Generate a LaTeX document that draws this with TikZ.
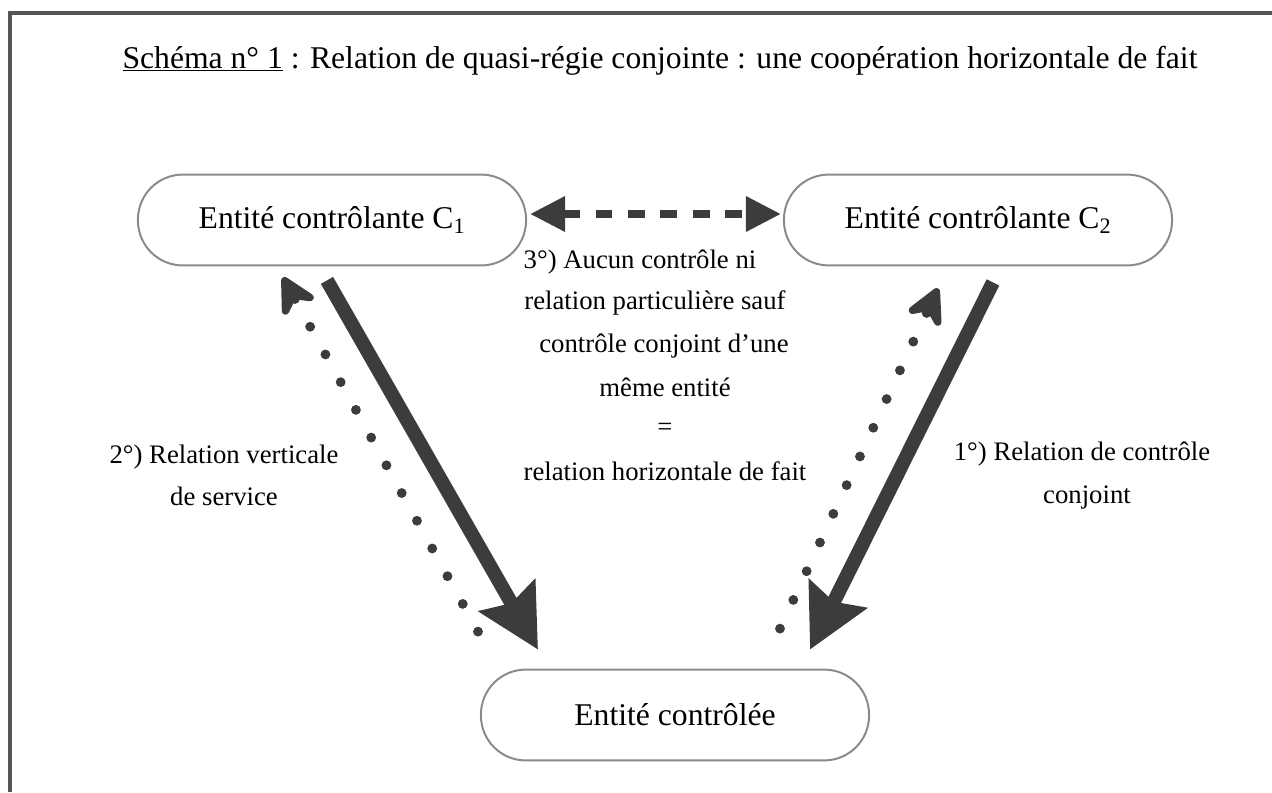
\documentclass[tikz,border=0pt]{standalone}
\usepackage{fontspec}
\setmainfont{Liberation Serif}
\usetikzlibrary{arrows.meta}
\definecolor{arrowgray}{HTML}{3C3C3C}
\definecolor{boxgray}{HTML}{8A8A8A}
\definecolor{framegray}{HTML}{555555}
\begin{document}
\begin{tikzpicture}[x=0.025cm,y=-0.025cm,
  entity/.style={draw=boxgray,line width=1.4pt,rounded corners=1.12cm,
    minimum width=9.7cm,minimum height=2.27cm,inner sep=0pt,
    font=\fontsize{22.5}{26}\selectfont},
  lbl/.style={anchor=base,inner sep=0pt,font=\fontsize{19}{23}\selectfont},
  thickarrow/.style={draw=arrowgray,line width=10pt,
    -{Stealth[length=44pt,width=45pt,inset=6pt]}},
  dotarrow/.style={draw=arrowgray,line width=7pt,line cap=round,
    dash pattern=on 0pt off 22.5pt,
    -{Stealth[length=33pt,width=34pt,inset=12pt,round=false]}},
  dasharrow/.style={draw=arrowgray,line width=5.5pt,
    dash pattern=on 12pt off 11pt,
    {Triangle[length=25pt,width=24pt]}-{Triangle[length=25pt,width=24pt]}}]
\useasboundingbox (0,0) rectangle (1272,792);
% frame
\draw[framegray,line width=3.5pt] (10,792) -- (10,13) -- (1272,13);
\node[anchor=base,inner sep=0pt,font=\fontsize{22.5}{27}\selectfont] (title) at (660,68)
  {\underline{Schéma n° 1} : Relation de quasi-régie conjointe : une coopération horizontale de fait};

\node[entity] (c1) at (332,220) {Entité contrôlante C\textsubscript{1}};
\node[entity] (c2) at (978,220) {Entité contrôlante C\textsubscript{2}};
\node[entity] (ctl) at (675,715) {Entité contrôlée};

\draw[dasharrow] ([shift={(3,-6)}]c1.east) -- ([shift={(-2,-6)}]c2.west);

\draw[thickarrow] ([shift={(-5,14)}]c1.south) -- ([shift={(-137,-19)}]ctl.north);
\draw[dotarrow] ([shift={(-197,-37)}]ctl.north) -- ([shift={(-49,11)}]c1.south);

\draw[thickarrow] ([shift={(15,16)}]c2.south) -- ([shift={(135,-19)}]ctl.north);
\draw[dotarrow] ([shift={(105,-40)}]ctl.north) -- ([shift={(-40,22)}]c2.south);

\node[lbl] (l3a) at (640,268) {3°) Aucun contrôle ni};
\node[lbl] (l3b) at (655,309) {relation particulière sauf};
\node[lbl] (l3c) at (664,352) {contrôle conjoint d'une};
\node[lbl] (l3d) at (665,396) {même entité};
\node[lbl] (l3e) at (665,435) {=};
\node[lbl] (l3f) at (665,480) {relation horizontale de fait};

\node[lbl] (l2a) at (224,463) {2°) Relation verticale};
\node[lbl] (l2b) at (224,505) {de service};

\node[lbl] (l1a) at (1082,460) {1°) Relation de contrôle};
\node[lbl] (l1b) at (1087,503) {conjoint};
\end{tikzpicture}
\end{document}
